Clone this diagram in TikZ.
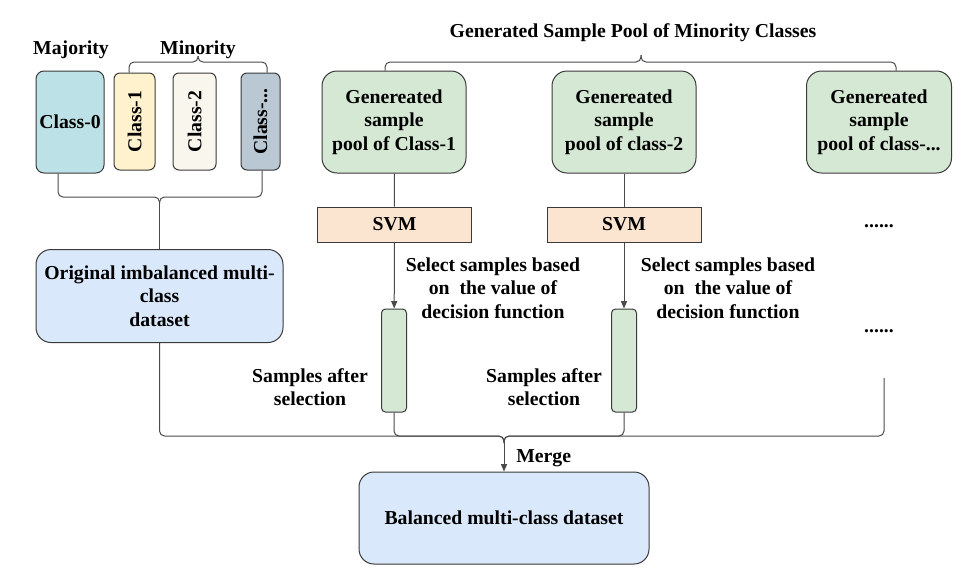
\documentclass[tikz,border=0pt]{standalone}
\usepackage{fontspec}
\setmainfont{Liberation Serif}[BoldFont={Liberation Serif Bold}]
\newfontfamily\tnr{Liberation Serif}[BoldFont={Liberation Serif Bold}]
\usetikzlibrary{arrows.meta,calc}
\newdimen\pxu \pxu=0.75pt
\definecolor{lineC}{HTML}{4A4A4A}
\definecolor{boxC}{HTML}{3A3A3A}
\definecolor{cZero}{HTML}{BCE2E7}
\definecolor{cOne}{HTML}{FFF2CC}
\definecolor{cTwo}{HTML}{F9F7ED}
\definecolor{cDots}{HTML}{BAC8D3}
\definecolor{cGreen}{HTML}{D5E8D4}
\definecolor{cSvm}{HTML}{FBE5D1}
\definecolor{cBlue}{HTML}{DAE8FC}
\begin{document}
\begin{tikzpicture}[x=0.75pt,y=-0.75pt,
  font=\tnr\fontsize{14.8}{17.6}\selectfont\bfseries,
  box/.style={draw=boxC, line width=0.75pt, align=center, inner sep=0pt},
  classbox/.style={box, rounded corners=6\pxu, rotate=90},
  poolbox/.style={box, fill=cGreen, rounded corners=15\pxu, minimum width=144\pxu, minimum height=102\pxu},
  svmbox/.style={box, fill=cSvm, minimum width=154\pxu, minimum height=35\pxu},
  colbox/.style={box, fill=cGreen, rounded corners=4\pxu, minimum width=25\pxu, minimum height=103\pxu},
  label/.style={align=center, inner sep=0pt},
  conn/.style={draw=lineC, line width=0.75pt},
  brace/.style={conn, rounded corners=5\pxu},
  arr/.style={conn, -{Triangle[length=5.5pt,width=4.5pt]}}
]
\useasboundingbox (0,0) rectangle (977,583);

% titles
\node[label] (title) at (633,33) {Generated Sample Pool of Minority Classes};
\node[label] (major) at (71,50) {Majority};
\node[label] (minor) at (198,50) {Minority};

% class boxes
\node[box, fill=cZero, rounded corners=8\pxu, minimum width=68\pxu, minimum height=102\pxu] (c0) at (70,122) {Class-0};
\node[classbox, fill=cOne, minimum width=97\pxu, minimum height=41\pxu] (c1) at (134.5,121.5) {Class-1};
\node[classbox, fill=cTwo, minimum width=97\pxu, minimum height=43\pxu] (c2) at (194.5,121.5) {Class-2};
\node[classbox, fill=cDots, minimum width=97\pxu, minimum height=39\pxu] (cd) at (260.5,121.5) {Class-...};

% dataset
\node[box, fill=cBlue, rounded corners=15\pxu, minimum width=247\pxu, minimum height=93\pxu] (data) at (159.5,296) {Original imbalanced multi-\\class\\dataset};

% pools
\node[poolbox] (p1) at (394,122) {Genereated\\sample\\pool of Class-1};
\node[poolbox] (p2) at (624,122) {Genereated\\sample\\pool of class-2};
\node[poolbox, minimum width=145\pxu] (p3) at (879,122) {Genereated\\sample\\pool of class-...};

% svm
\node[svmbox] (s1) at (394.5,224.5) {SVM};
\node[svmbox] (s2) at (624,224.5) {SVM};
\node[label] (d1) at (879,226) {......};
\node[label] (d2) at (879,331) {......};

% columns
\node[colbox] (k1) at (394,360.5) {};
\node[colbox] (k2) at (624,360.5) {};

% labels
\node[label] (sel1) at (493,288) {Select samples based\\on\ \ the value of\\decision function};
\node[label] (sel2) at (728,288) {Select samples based\\on\ \ the value of\\decision function};
\node[label] (aft1) at (310,387) {Samples after\\selection};
\node[label] (aft2) at (544,387) {Samples after\\selection};

% balanced
\node[box, fill=cBlue, rounded corners=15\pxu, minimum width=290\pxu, minimum height=92\pxu] (bal) at (504,518) {Balanced multi-class dataset};
\node[label, anchor=west] (merge) at (516,458) {Merge};

% connectors
\draw[conn] (p1) -- (s1);
\draw[conn] (p2) -- (s2);
\draw[arr] (s1) -- (k1);
\draw[arr] (s2) -- (k2);

% minority brace
\coordinate (mtip) at (198,56);
\draw[brace] ($(c1.east)+(-5.5,0)$) |- ($(mtip)+(0,6)$) -- (mtip);
\draw[brace] ($(cd.east)+(6.5,0)$) |- ($(mtip)+(0,6)$) -- (mtip);

% lower-left brace
\coordinate (ltip) at (159.5,203);
\draw[brace] ($(c0.south)+(-12,0)$) |- ($(ltip)+(0,-6)$) -- (ltip);
\draw[brace] ($(cd.west)+(1.5,0)$) |- ($(ltip)+(0,-6)$) -- (ltip);
\draw[conn] (ltip) -- (data.north);

% top pool brace
\coordinate (ttip) at (641,55);
\draw[brace] ($(p1.north)+(-9,0)$) |- ($(ttip)+(0,7)$) -- (ttip);
\draw[brace] ($(p3.north)+(17,0)$) |- ($(ttip)+(0,7)$) -- (ttip);

% merge braces
\coordinate (btip) at (504,443);
\coordinate (rend) at (884,378);
\draw[brace] (data.south) |- ($(btip)+(0,-7)$) -- (btip);
\draw[brace] (rend) |- ($(btip)+(0,-7)$) -- (btip);
\draw[brace] (k1.south) |- ($(btip)+(0,-7)$) -- (btip);
\draw[brace] (k2.south) |- ($(btip)+(0,-7)$) -- (btip);
\draw[arr] (btip) -- (bal.north);
\end{tikzpicture}
\end{document}
